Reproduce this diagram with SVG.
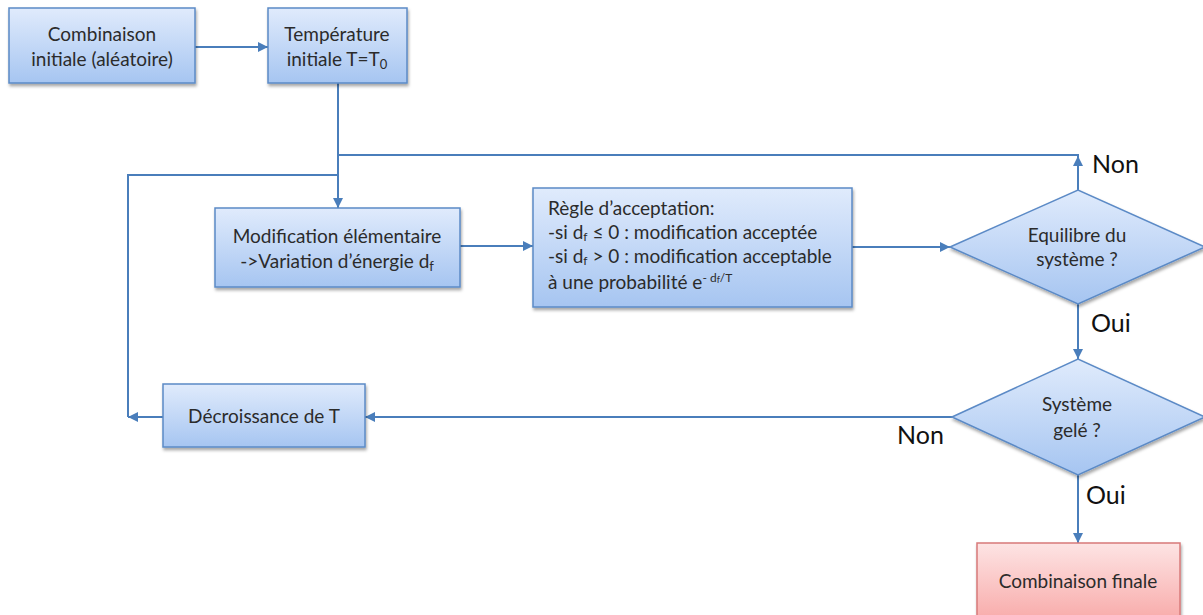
<svg xmlns="http://www.w3.org/2000/svg" width="1203" height="615" viewBox="0 0 1203 615">
<defs>
<linearGradient id="gBlue" x1="0" y1="0" x2="0" y2="1">
<stop offset="0" stop-color="#e0ebfc"/>
<stop offset="1" stop-color="#a6c5f1"/>
</linearGradient>
<linearGradient id="gRed" x1="0" y1="0" x2="0" y2="1">
<stop offset="0" stop-color="#fde4e4"/>
<stop offset="1" stop-color="#f8a9a8"/>
</linearGradient>
<filter id="sh" x="-10%" y="-10%" width="125%" height="140%">
<feDropShadow dx="1" dy="2.5" stdDeviation="1.5" flood-color="#000" flood-opacity="0.35"/>
</filter>
<marker id="arr" viewBox="0 0 10 10" refX="10" refY="5" markerWidth="10" markerHeight="10" orient="auto" markerUnits="userSpaceOnUse">
<path d="M0,0 L10,5 L0,10 z" fill="#4a7ebb"/>
</marker>
</defs>
<style>
.box{fill:url(#gBlue);stroke:#5b8ac6;stroke-width:1.5;filter:url(#sh)}
.red{fill:url(#gRed);stroke:#d87a7a;stroke-width:1.5;filter:url(#sh)}
.t{font-family:Lato,"Liberation Sans",sans-serif;font-size:19px;fill:#2b2b2b;text-anchor:middle}
.tl{font-family:Lato,"Liberation Sans",sans-serif;font-size:19px;fill:#2b2b2b}
.lbl{font-family:Lato,"Liberation Sans",sans-serif;font-size:25px;fill:#111}
.c{fill:none;stroke:#4a7ebb;stroke-width:2}
</style>
<rect width="1203" height="615" fill="#fff"/>
<g id="connectors">
<path class="c" d="M195,47 H268" marker-end="url(#arr)"/>
<path class="c" d="M338,83 V208" marker-end="url(#arr)"/>
<path class="c" d="M1078,190 V156" marker-end="url(#arr)"/>
<path class="c" d="M1079,155 H338"/>
<path class="c" d="M128,417 V175 H338"/>
<path class="c" d="M163,417 H128" marker-end="url(#arr)"/>
<path class="c" d="M460,246 H533" marker-end="url(#arr)"/>
<path class="c" d="M852,247 H950" marker-end="url(#arr)"/>
<path class="c" d="M1078,304 V359" marker-end="url(#arr)"/>
<path class="c" d="M952,417 H365" marker-end="url(#arr)"/>
<path class="c" d="M1078,475 V543" marker-end="url(#arr)"/>
</g>
<g id="n1">
<rect class="box" x="9" y="8" width="186" height="75"/>
<text class="t" x="102" y="41">Combinaison</text>
<text class="t" x="102" y="66">initiale (aléatoire)</text>
</g>
<g id="n2">
<rect class="box" x="268" y="8" width="139" height="75"/>
<text class="t" x="337" y="41">Température</text>
<text class="t" x="337" y="66">initiale T=T<tspan font-size="13" dy="3">0</tspan></text>
</g>
<g id="n3">
<rect class="box" x="215" y="208" width="245" height="79"/>
<text class="t" x="337" y="243" font-size="18.5">Modification élémentaire</text>
<text class="t" x="337" y="268">-&gt;Variation d’énergie d<tspan font-size="13" dy="3">f</tspan></text>
</g>
<g id="n4">
<rect class="box" x="533" y="188" width="319" height="119"/>
<text class="tl" x="548" y="215">Règle d’acceptation:</text>
<text class="tl" x="548" y="239">-si d<tspan font-size="12" dy="2">f</tspan><tspan dy="-2"> ≤ 0 : modification acceptée</tspan></text>
<text class="tl" x="548" y="263">-si d<tspan font-size="12" dy="2">f</tspan><tspan dy="-2"> &gt; 0 :  modification acceptable</tspan></text>
<text class="tl" x="548" y="289">à une probabilité e<tspan font-size="12" dy="-7">-  d</tspan><tspan font-size="9" dy="1">f</tspan><tspan font-size="12" dy="-1">/T</tspan></text>
</g>
<g id="n5">
<polygon class="box" points="950,247 1078,190 1205,247 1078,304"/>
<text class="t" x="1077" y="242">Equilibre du</text>
<text class="t" x="1077" y="266">système ?</text>
</g>
<g id="n6">
<polygon class="box" points="952,417 1078,359 1205,417 1078,475"/>
<text class="t" x="1077" y="411">Système</text>
<text class="t" x="1077" y="437">gelé ?</text>
</g>
<g id="n7">
<rect class="box" x="163" y="384" width="202" height="63"/>
<text class="t" x="264" y="423">Décroissance de T</text>
</g>
<g id="n8">
<rect class="red" x="977" y="543" width="203" height="80"/>
<text class="t" x="1078" y="588">Combinaison finale</text>
</g>
<g id="labels">
<text class="lbl" x="1092" y="173">Non</text>
<text class="lbl" x="1091" y="332">Oui</text>
<text class="lbl" x="897" y="444">Non</text>
<text class="lbl" x="1086" y="504">Oui</text>
</g>
</svg>
